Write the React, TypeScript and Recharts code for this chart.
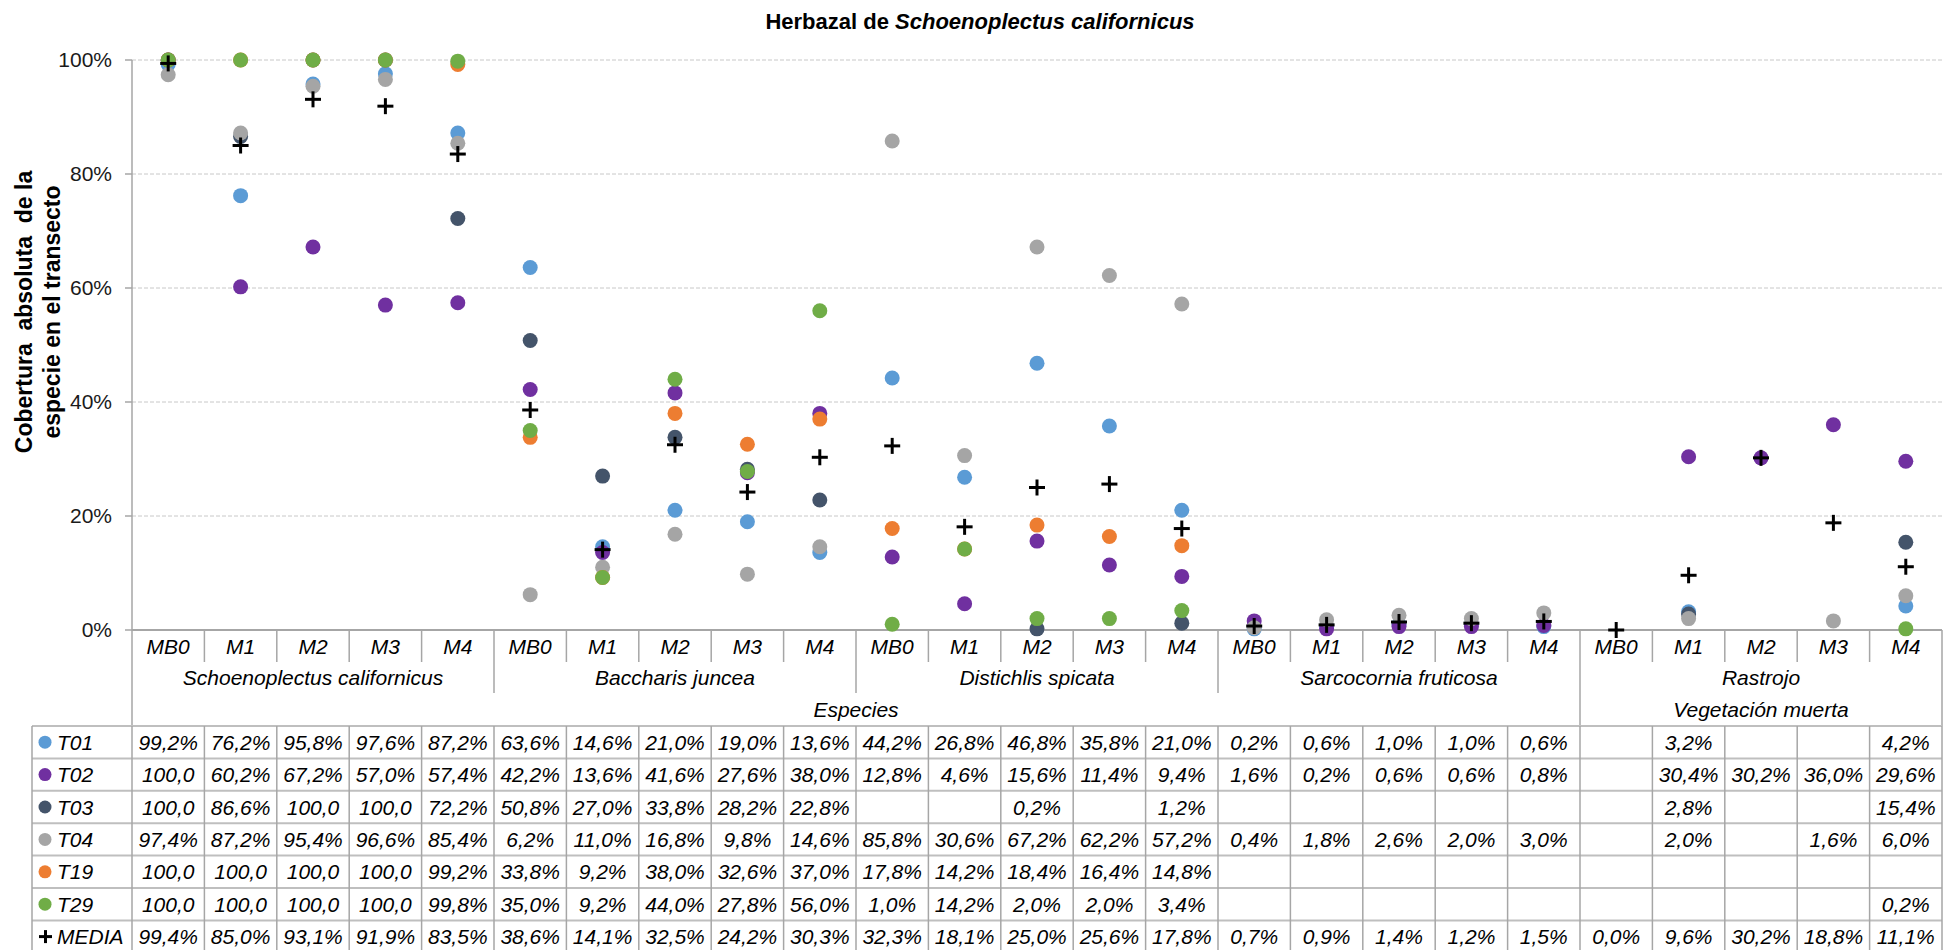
import React from "react";
import { ComposedChart, Scatter, XAxis, YAxis, CartesianGrid } from "recharts";

// Chart data
const months = ["MB0", "M1", "M2", "M3", "M4"];
const species = [
  "Schoenoplectus californicus",
  "Baccharis juncea",
  "Distichlis spicata",
  "Sarcocornia fruticosa",
  "Rastrojo",
];
const groupLabels = ["Especies", "Vegetación muerta"];
const groupSpans = [4, 1];
const yTicks = [0, 20, 40, 60, 80, 100];

const T01 = [99.2, 76.2, 95.8, 97.6, 87.2, 63.6, 14.6, 21.0, 19.0, 13.6, 44.2, 26.8, 46.8, 35.8, 21.0, 0.2, 0.6, 1.0, 1.0, 0.6, null, 3.2, null, null, 4.2];
const T02 = [100.0, 60.2, 67.2, 57.0, 57.4, 42.2, 13.6, 41.6, 27.6, 38.0, 12.8, 4.6, 15.6, 11.4, 9.4, 1.6, 0.2, 0.6, 0.6, 0.8, null, 30.4, 30.2, 36.0, 29.6];
const T03 = [100.0, 86.6, 100.0, 100.0, 72.2, 50.8, 27.0, 33.8, 28.2, 22.8, null, null, 0.2, null, 1.2, null, null, null, null, null, null, 2.8, null, null, 15.4];
const T04 = [97.4, 87.2, 95.4, 96.6, 85.4, 6.2, 11.0, 16.8, 9.8, 14.6, 85.8, 30.6, 67.2, 62.2, 57.2, 0.4, 1.8, 2.6, 2.0, 3.0, null, 2.0, null, 1.6, 6.0];
const T19 = [100.0, 100.0, 100.0, 100.0, 99.2, 33.8, 9.2, 38.0, 32.6, 37.0, 17.8, 14.2, 18.4, 16.4, 14.8, null, null, null, null, null, null, null, null, null, null];
const T29 = [100.0, 100.0, 100.0, 100.0, 99.8, 35.0, 9.2, 44.0, 27.8, 56.0, 1.0, 14.2, 2.0, 2.0, 3.4, null, null, null, null, null, null, null, null, null, 0.2];
const MEDIA = [99.4, 85.0, 93.1, 91.9, 83.5, 38.6, 14.1, 32.5, 24.2, 30.3, 32.3, 18.1, 25.0, 25.6, 17.8, 0.7, 0.9, 1.4, 1.2, 1.5, 0.0, 9.6, 30.2, 18.8, 11.1];

const series = [
  { name: "T01", color: "#5B9BD5", values: T01 },
  { name: "T02", color: "#7030A0", values: T02 },
  { name: "T03", color: "#44546A", values: T03 },
  { name: "T04", color: "#A5A5A5", values: T04 },
  { name: "T19", color: "#ED7D31", values: T19 },
  { name: "T29", color: "#70AD47", values: T29 },
];

// layout
const W = 1943;
const H = 950;
const PLOT_L = 132;
const PLOT_R = 1942;
const PLOT_T = 60;
const PLOT_B = 630;
const AXIS_H = 96;
const BAND = (PLOT_R - PLOT_L) / (species.length * months.length);
const TABLE_L = 32;
const TABLE_T = PLOT_B + AXIS_H;
const ROW_H = 32.4;
const FONT = "'Liberation Sans', Arial, sans-serif";
const GRID = "#A6A6A6";

const rows = species.flatMap((sp, s) =>
  months.map((m, j) => {
    const i = s * months.length + j;
    const row: Record<string, any> = { key: `${sp}|${m}`, month: m, species: sp, MEDIA: MEDIA[i] };
    series.forEach((se) => (row[se.name] = se.values[i]));
    return row;
  })
);

const fmt = (v: number | null) =>
  v == null ? "" : v >= 100 ? "100,0" : v.toFixed(1).replace(".", ",") + "%";

const dotShape = (key: string, color: string) => (props: any) => {
  if (props.payload == null || props.payload[key] == null) return <g />;
  return <circle cx={props.cx} cy={props.cy} r={7.5} fill={color} />;
};

const plusShape = (props: any) => {
  if (props.payload == null || props.payload.MEDIA == null) return <g />;
  const { cx, cy } = props;
  return (
    <g stroke="#000" strokeWidth={3}>
      <line x1={cx - 8} y1={cy} x2={cx + 8} y2={cy} />
      <line x1={cx} y1={cy - 8} x2={cx} y2={cy + 8} />
    </g>
  );
};

// multi-level category axis
const CategoryTick = (props: any) => {
  const { x, payload } = props;
  const i = payload.index;
  const left = x - BAND / 2;
  const j = i % months.length;
  const s = Math.floor(i / months.length);
  const lineBottom = (idx: number) => {
    if (idx === 0 || idx === rows.length) return TABLE_T;
    if (idx === groupSpans[0] * months.length) return TABLE_T;
    if (idx % months.length === 0) return PLOT_B + 63;
    return PLOT_B + 32;
  };
  const groupCenters: { label: string; x: number; at: number }[] = [];
  let start = 0;
  groupLabels.forEach((g, k) => {
    const n = groupSpans[k] * months.length;
    groupCenters.push({ label: g, x: PLOT_L + (start + n / 2) * BAND, at: start + Math.floor(n / 2) });
    start += n;
  });
  return (
    <g fontFamily={FONT} fontStyle="italic" fontSize={21} fill="#000">
      <line x1={left} y1={PLOT_B} x2={left} y2={lineBottom(i)} stroke={GRID} strokeWidth={1.5} />
      {i === rows.length - 1 && (
        <line x1={left + BAND} y1={PLOT_B} x2={left + BAND} y2={TABLE_T} stroke={GRID} strokeWidth={1.5} />
      )}
      <text x={x} y={PLOT_B + 16} textAnchor="middle" dominantBaseline="central">
        {payload.value.split("|")[1]}
      </text>
      {j === 2 && (
        <text x={x} y={PLOT_B + 47} textAnchor="middle" dominantBaseline="central">
          {species[s]}
        </text>
      )}
      {groupCenters
        .filter((g) => g.at === i)
        .map((g) => (
          <text key={g.label} x={g.x} y={PLOT_B + 79} textAnchor="middle" dominantBaseline="central">
            {g.label}
          </text>
        ))}
    </g>
  );
};

const YLabel = () => (
  <text
    transform={`translate(32, 312) rotate(-90)`}
    textAnchor="middle"
    fontFamily={FONT}
    fontWeight="bold"
    fontSize={23}
    fill="#000"
    style={{ whiteSpace: "pre" }}
  >
    <tspan x={0} dy={0}>Cobertura  absoluta  de la</tspan>
    <tspan x={0} dy={28}>especie en el transecto</tspan>
  </text>
);

const tableRows = [
  ...series.map((s) => ({ name: s.name, color: s.color, values: s.values as (number | null)[], plus: false })),
  { name: "MEDIA", color: "#000", values: MEDIA as (number | null)[], plus: true },
];

const DataTable = () => (
  <svg width={W} height={H} style={{ position: "absolute", left: 0, top: 0, pointerEvents: "none" }}>
    <g fontFamily={FONT} fontStyle="italic" fontSize={21} fill="#000">
      {tableRows.map((r, ri) => {
        const cy = TABLE_T + ri * ROW_H + ROW_H / 2;
        return (
          <g key={r.name}>
            {r.plus ? (
              <g stroke="#000" strokeWidth={3}>
                <line x1={39} y1={cy} x2={52} y2={cy} />
                <line x1={45.5} y1={cy - 6.5} x2={45.5} y2={cy + 6.5} />
              </g>
            ) : (
              <circle cx={45} cy={cy} r={6.5} fill={r.color} />
            )}
            <text x={57} y={cy} dominantBaseline="central">
              {r.name}
            </text>
            {r.values.map((v, ci) => (
              <text key={ci} x={PLOT_L + (ci + 0.5) * BAND} y={cy} textAnchor="middle" dominantBaseline="central">
                {fmt(v)}
              </text>
            ))}
          </g>
        );
      })}
    </g>
    {tableRows.map((_, ri) => (
      <line key={"h" + ri} x1={TABLE_L} x2={PLOT_R} y1={TABLE_T + ri * ROW_H} y2={TABLE_T + ri * ROW_H} stroke="#BFBFBF" strokeWidth={2} />
    ))}
    <line x1={TABLE_L} x2={TABLE_L} y1={TABLE_T} y2={H} stroke={GRID} strokeWidth={1.5} />
    {rows.map((_, ci) => (
      <line key={"v" + ci} x1={PLOT_L + ci * BAND} x2={PLOT_L + ci * BAND} y1={TABLE_T} y2={H} stroke={GRID} strokeWidth={1.5} />
    ))}
    <line x1={PLOT_R} x2={PLOT_R} y1={TABLE_T} y2={H} stroke={GRID} strokeWidth={1.5} />
  </svg>
);

export default function App() {
  return (
    <div style={{ position: "absolute", left: 0, top: 0, width: W, height: H, overflow: "hidden", background: "#fff" }}>
      <div
        style={{
          position: "absolute",
          left: 0,
          width: 1960,
          top: 9,
          textAlign: "center",
          fontFamily: FONT,
          fontWeight: "bold",
          fontSize: 22,
          color: "#000",
          zIndex: 2,
        }}
      >
        Herbazal de <i>Schoenoplectus californicus</i>
      </div>
      <ComposedChart
        width={W}
        height={H}
        data={rows}
        margin={{ top: PLOT_T, right: W - PLOT_R, bottom: H - TABLE_T, left: 0 }}
      >
        <CartesianGrid vertical={false} stroke="#C8C8C8" strokeDasharray="4 2" />
        <XAxis
          dataKey="key"
          type="category"
          height={AXIS_H}
          interval={0}
          padding={{ left: BAND / 2, right: BAND / 2 }}
          tickLine={false}
          axisLine={{ stroke: GRID, strokeWidth: 2 }}
          tick={<CategoryTick />}
        />
        <YAxis
          width={PLOT_L}
          domain={[0, 100]}
          ticks={yTicks}
          tickFormatter={(v: number) => `${v}%`}
          tickSize={7}
          tickMargin={13}
          tickLine={{ stroke: GRID, strokeWidth: 1.5 }}
          axisLine={{ stroke: GRID, strokeWidth: 1.5 }}
          tick={{ fontFamily: FONT, fontSize: 21, fill: "#1a1a1a" }}
          label={{ content: () => <YLabel /> }}
        />
        {series.map((s) => (
          <Scatter
            key={s.name}
            name={s.name}
            dataKey={s.name}
            fill={s.color}
            shape={dotShape(s.name, s.color)}
            isAnimationActive={false}
          />
        ))}
        <Scatter name="MEDIA" dataKey="MEDIA" fill="#000" shape={plusShape} isAnimationActive={false} />
      </ComposedChart>
      <DataTable />
    </div>
  );
}
